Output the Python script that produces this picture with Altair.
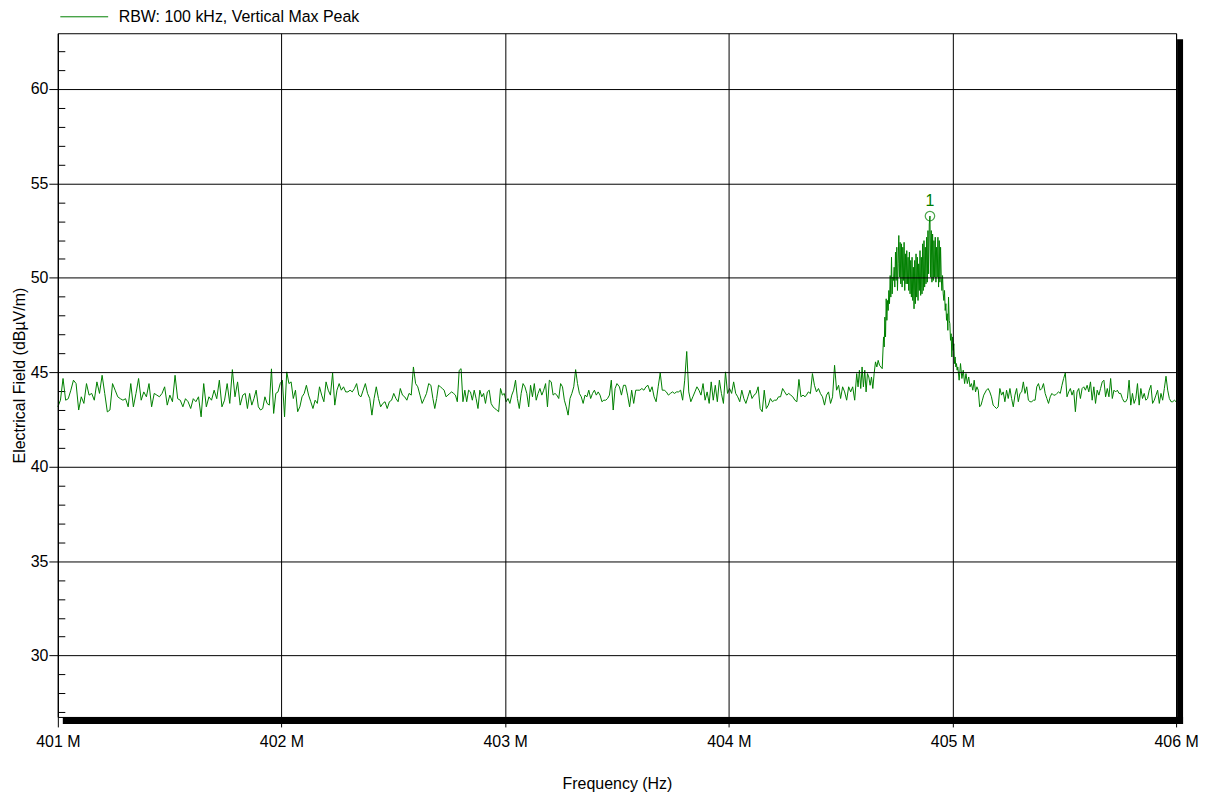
import altair as alt
import numpy as np
import pandas as pd

SERIES_NAME = "RBW: 100 kHz, Vertical Max Peak"
X_TITLE = "Frequency (Hz)"
Y_TITLE = "Electrical Field (dB\u00b5V/m)"
MARKER_LABEL = "1"

x_ticks = [401, 402, 403, 404, 405, 406]
y_major = [30, 35, 40, 45, 50, 55, 60]
y_minor = [27, 28, 29, 31, 32, 33, 34, 36, 37, 38, 39, 41, 42, 43, 44,
           46, 47, 48, 49, 51, 52, 53, 54, 56, 57, 58, 59, 61, 62]

# trace values (dBuV/m)
seg_a = [43.17, 43.52, 44.67, 43.52, 43.60, 44.05, 44.58, 44.40, 43.00, 43.70, 43.35, 44.40, 43.79,
         43.88, 43.52, 44.49, 43.88, 44.84, 43.88, 42.90, 43.00, 44.40, 44.05, 43.70, 43.60,
         43.52, 43.60, 43.17, 44.40, 43.17, 43.88, 44.67, 43.52, 43.96, 43.70, 44.40, 43.17,
         43.88, 43.79, 43.70, 43.88, 44.23, 43.26, 43.79, 43.44, 44.84, 43.60, 43.52, 43.17,
         43.60, 43.44, 43.08, 43.60, 43.44, 43.70, 42.64, 44.40, 43.17, 43.70, 43.52, 44.05,
         43.60, 44.58, 43.17, 43.52, 44.40, 43.35, 45.14, 43.70, 44.49, 43.26, 43.79]
seg_b = [43.88, 43.08, 43.88, 43.26, 43.61, 44.05, 43.17, 43.00, 43.08, 43.70, 43.35, 43.26,
         45.18, 42.82, 43.88, 43.96, 44.40, 44.58, 42.64, 45.02, 44.40, 44.49, 43.61, 44.05,
         42.91, 43.17, 43.70, 43.88, 44.31, 43.79, 43.44, 43.08, 43.52, 43.35, 44.23, 43.79,
         43.44, 44.49, 44.05, 43.79, 44.96, 43.26, 44.05, 44.40, 44.05, 44.23, 43.96, 43.96,
         44.05, 43.96, 44.14, 44.40, 43.79, 43.70, 44.05, 44.40, 43.88, 43.61, 42.73, 43.61,
         44.23, 43.61, 43.17, 43.35, 43.44, 43.08, 43.44, 43.52, 43.88, 43.61, 43.44, 44.14,
         43.79, 43.70, 43.52, 43.88, 43.79, 45.28, 44.40, 44.23, 43.79, 43.35, 43.61, 43.88,
         44.40, 44.31]
seg_c = [43.61, 43.08, 43.61, 44.31, 44.23, 44.14, 44.05, 43.70, 43.79, 43.88, 43.96, 43.88,
         43.79, 43.44, 45.10, 45.19, 43.44, 44.05, 43.44, 44.05, 43.96, 43.52, 44.05, 43.61,
         43.08, 44.05, 43.70, 43.88, 43.35, 43.96, 44.05, 43.35, 43.17, 43.08, 43.00, 42.91,
         44.14, 43.79, 43.88, 43.44, 43.61, 43.35, 43.79, 44.05, 44.58, 43.61, 43.08, 43.88,
         44.40, 44.23, 43.88, 43.17, 44.31, 43.70, 44.40, 43.52, 43.88, 44.14, 43.79, 44.05,
         44.40, 43.17, 44.58, 44.49, 43.79, 43.88, 43.79, 43.61, 44.40, 44.23, 43.52, 43.17,
         42.73, 43.61, 43.88, 44.23, 45.14, 44.40, 43.88, 43.70, 43.35, 43.79, 43.70, 44.05,
         43.61, 43.88, 44.05, 43.79, 43.96, 43.79, 43.44, 43.52, 43.52, 43.61, 43.79, 44.58,
         43.00, 44.14, 44.40]
seg_d = [44.23, 43.79, 44.31, 44.31, 43.79, 43.17, 44.05, 43.35, 44.05, 44.05, 44.05, 44.14,
         44.05, 44.23, 44.31, 43.96, 44.23, 43.70, 43.44, 44.23, 44.96, 44.05, 44.05, 43.96,
         43.79, 43.88, 43.96, 43.88, 43.96, 43.96, 44.05, 43.52, 44.58, 46.10, 43.96, 43.44,
         43.70, 43.96, 44.23, 44.05, 43.79, 44.40, 43.52, 43.96, 43.35, 44.49, 43.52, 44.31,
         43.44, 44.58, 43.88, 43.35, 45.02, 43.88, 44.14, 43.88, 44.49, 43.88, 43.70, 43.44,
         44.05, 43.61, 43.35, 43.70, 44.05, 43.61, 43.79, 43.88, 44.23, 43.08, 42.91, 44.05,
         43.08, 43.26, 43.61, 43.44, 43.52, 43.52, 43.70, 43.70, 44.14, 43.96, 43.79, 43.88,
         43.79, 43.70, 43.52, 43.44, 44.62, 43.70, 43.79, 43.70]
seg_e1 = [43.79, 43.96, 43.87, 44.93, 44.31, 43.96, 44.14, 43.87, 43.70, 43.26, 43.79, 43.96,
          43.35, 43.70, 45.37, 44.05, 44.31, 43.61, 44.23, 43.96, 43.52, 44.23, 43.96, 44.23,
          43.52, 44.93]
seg_e2 = [44.23, 45.11, 44.14, 45.28, 44.23, 45.11, 43.96, 44.93, 44.75, 44.31, 44.75, 44.14,
          44.93, 45.55, 45.28, 45.63, 45.37, 45.28, 45.19]
seg_e3 = [46.87, 46.34, 47.92, 46.87, 48.89, 47.75, 48.80, 48.27, 49.33, 48.63, 50.12, 48.98,
          51.09, 49.15, 50.04, 49.86, 50.56, 49.51, 51.36, 49.86, 51.62, 49.33, 50.74, 52.24,
          50.04, 51.88, 49.68, 51.80, 49.51, 51.62, 49.86, 51.88, 49.33, 51.27, 49.68, 51.44,
          49.68, 51.09, 49.33, 51.36, 49.15, 50.92, 48.98, 51.09, 48.80, 50.56, 48.36, 50.92,
          48.63, 51.27, 48.98, 51.09, 48.80, 50.74, 49.33, 51.44, 49.07, 51.09, 49.15, 51.80,
          49.33, 51.97, 49.51, 51.62, 49.68, 52.15, 49.77, 52.50, 50.21, 52.85, 53.27, 50.04,
          52.50, 49.77, 52.32, 49.86, 51.97, 50.04, 52.15, 49.77, 51.62, 50.04, 52.15, 49.51,
          51.97, 49.77, 51.62, 50.04, 49.33, 50.12, 49.15, 48.80, 49.33, 48.27, 48.63, 47.75,
          48.10, 47.22, 48.98, 47.75, 47.57, 46.69, 47.04, 45.81, 46.87, 46.16, 46.51, 45.46,
          45.81, 45.28, 45.46, 45.11, 45.28]
seg_e4 = [44.58, 45.46, 44.67, 45.11, 44.40, 44.93, 44.40, 44.75, 44.23, 44.40, 44.05, 44.58,
          43.96, 44.23, 44.05, 43.17, 43.26, 43.52, 43.79]
seg_f = [44.05, 44.14, 43.96, 43.70, 43.26, 43.17, 43.08, 43.17, 44.14, 43.79, 43.96, 43.44,
         44.05, 43.61, 44.14, 43.61, 43.17, 43.79, 44.14, 43.44, 43.88, 43.96, 44.49, 43.88,
         44.23, 43.52, 43.44, 43.44, 43.52, 43.52, 44.23, 44.40, 44.05, 44.14, 44.40, 43.88,
         43.61, 43.35, 43.70, 43.88, 43.79, 43.79, 43.88, 43.96, 43.88, 44.31, 44.67, 44.96,
         43.70, 43.96, 44.14, 43.79, 44.05, 42.91, 43.96, 44.14, 43.61, 44.14, 44.23, 44.05,
         44.31, 43.96, 44.49, 43.52, 44.23, 43.35, 44.05, 43.79, 44.14, 44.49, 44.58, 43.70,
         44.14, 43.70, 44.67, 43.61, 44.05, 43.96, 44.05, 43.88, 43.88, 43.61, 43.44, 43.44,
         43.61, 44.58, 43.26, 43.88, 43.35, 43.61, 44.40, 43.26, 44.14, 43.61, 43.88, 43.52,
         43.61, 44.05, 44.31, 43.35, 43.52, 43.79, 44.05, 43.35, 43.88, 43.52, 44.14, 44.79,
         44.05, 43.61, 43.44, 43.44, 43.52, 43.44]

# frequency span (MHz) covered by each segment
segments = [
    (401.000, 401.827, seg_a),
    (401.838, 402.668, seg_b),
    (402.677, 403.500, seg_c),
    (403.511, 404.341, seg_d),
    (404.347, 404.572, seg_e1),
    (404.578, 404.686, seg_e2),
    (404.692, 405.024, seg_e3),
    (405.030, 405.140, seg_e4),
    (405.152, 406.000, seg_f),
]

freqs, levels = [], []
for start, end, vals in segments:
    freqs.extend(np.linspace(start, end, len(vals)).tolist())
    levels.extend(vals)

df = pd.DataFrame({"freq": freqs, "level": levels, "series": SERIES_NAME})

GREEN = "#008000"
FONT = "Liberation Sans"
W, H = 1122, 686

x_scale = alt.Scale(domain=[401, 406], nice=False, zero=False)
y_scale = alt.Scale(domain=[26.75, 62.95], nice=False, zero=False)

x_axis = alt.Axis(values=x_ticks, labelExpr="datum.value + ' M'", title=X_TITLE,
                  grid=True, gridColor="black", gridWidth=1, domain=False,
                  tickSize=10, tickColor="black", labelFontSize=16, labelPadding=7,
                  titleFontSize=16, titlePadding=26, labelFlush=False, zindex=1)
x_enc = alt.X("freq:Q", scale=x_scale, axis=x_axis)

y_major_axis = alt.Axis(values=y_major, title=Y_TITLE, grid=True, gridColor="black",
                        gridWidth=1, domain=True, domainColor="black", tickSize=9,
                        tickColor="black", labelFontSize=16, labelPadding=1,
                        titleFontSize=16, titlePadding=3, orient="left", zindex=1)
y_minor_axis = alt.Axis(values=y_minor, title=None, grid=False, domain=False, labels=False,
                        tickSize=7, tickColor="black", offset=-7, orient="left")

trace = alt.Chart(df).mark_line(strokeWidth=1, interpolate="linear").encode(
    x=x_enc,
    y=alt.Y("level:Q", scale=y_scale, axis=y_major_axis),
    color=alt.Color("series:N", scale=alt.Scale(range=[GREEN]),
                    legend=alt.Legend(title=None, orient="none", legendX=2, legendY=-41,
                                      symbolType="stroke", symbolSize=2304,
                                      symbolStrokeWidth=1, labelFontSize=16,
                                      labelOffset=10, labelFont=FONT, padding=0,
                                      labelLimit=0, labelColor="black")),
)

peak = alt.Chart(df).transform_joinaggregate(peak="max(level)").transform_filter(
    "datum.level == datum.peak")

peak_point = peak.mark_point(shape="circle", filled=False, size=90, color=GREEN,
                             strokeWidth=1.2).encode(
    x=x_enc,
    y=alt.Y("level:Q", scale=y_scale, axis=y_minor_axis),
)
peak_text = peak.mark_text(text=MARKER_LABEL, dy=-15, fontSize=16, font=FONT,
                           color=GREEN, baseline="middle", align="center").encode(
    x=x_enc,
    y=alt.Y("level:Q", scale=y_scale, axis=None),
)

frame_df = pd.DataFrame({"k": [0]})
shadow_bottom = alt.Chart(frame_df).mark_rect(color="black").encode(
    x=alt.value(5), x2=alt.value(W + 7), y=alt.value(H), y2=alt.value(H + 7))
shadow_right = alt.Chart(frame_df).mark_rect(color="black").encode(
    x=alt.value(W + 1), x2=alt.value(W + 7), y=alt.value(6), y2=alt.value(H + 7))

chart = alt.layer(trace, peak_point, peak_text, shadow_bottom, shadow_right).resolve_axis(
    y="independent"
).properties(
    width=W, height=H,
    autosize=alt.AutoSizeParams(type="none"),
    padding={"left": 50, "top": 24, "right": 25, "bottom": 78},
    background="white",
).configure_view(
    stroke="black", strokeWidth=1
).configure_axis(
    labelFont=FONT, titleFont=FONT, labelColor="black", titleColor="black",
    titleFontWeight="normal"
)

chart.save("out.html", embed_options={"renderer": "svg", "actions": False})
